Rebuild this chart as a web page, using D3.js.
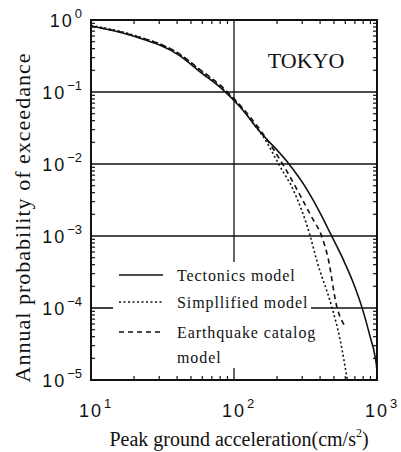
<!DOCTYPE html>
<html>
<head>
<meta charset="utf-8">
<script src="https://cdn.jsdelivr.net/npm/d3@7"></script>
<style>
body { margin: 0; background: #fff; }
svg { display: block; }
</style>
</head>
<body>
<svg width="401" height="452"></svg>
<script>
// values (acceleration cm/s^2, annual probability)
var tectonicsX = [10, 19.7, 41.9, 57, 83.8, 110, 152, 235, 324, 399, 476, 578, 679, 785, 893, 968, 997, 1000];
var tectonicsY = [0.826, 0.6, 0.317, 0.195, 0.107, 0.0624, 0.0281, 0.0108, 0.00441, 0.00212, 0.00105, 0.00048, 0.00023, 0.000102, 0.0000407, 0.0000214, 0.000014, 0.00001];
var simplifiedX = [10, 19.7, 41.9, 57, 83.8, 110, 140, 160, 210, 259, 340, 380, 484, 551, 620];
var simplifiedY = [0.84, 0.62, 0.33, 0.205, 0.11, 0.064, 0.034, 0.024, 0.0092, 0.00441, 0.00102, 0.00045, 0.000102, 0.000037, 0.00001];
var catalogX = [10, 19.7, 41.9, 57, 83.8, 110, 152, 220, 276, 351, 410, 454, 525, 597];
var catalogY = [0.82, 0.61, 0.335, 0.21, 0.115, 0.066, 0.03, 0.0098, 0.00441, 0.0018, 0.001, 0.0005, 0.000102, 0.000056];
var xTicks = [10, 100, 1000];
var yTicks = [1, 0.1, 0.01, 0.001, 0.0001, 0.00001];
var legendNames = ["Tectonics model", "Simpllified model", "Earthquake catalog", "model"];

var svg = d3.select("svg");
var pl = 91, pr = 377, pt = 20, pb = 380;

var x = d3.scaleLog().domain([10, 1000]).range([pl, pr]);
var y = d3.scaleLog().domain([0.00001, 1]).range([pb, pt]);

var ink = "#111";

// minor ticks
var xMinor = [], yMinor = [];
[10, 100].forEach(function(d) { for (var k = 2; k < 10; k++) xMinor.push(d * k); });
[0.00001, 0.0001, 0.001, 0.01, 0.1].forEach(function(d) { for (var k = 2; k < 10; k++) yMinor.push(d * k); });

var g = svg.append("g");

// grid lines
g.selectAll(".hgrid").data([0.1, 0.01, 0.001]).enter().append("line")
  .attr("x1", pl).attr("x2", pr)
  .attr("y1", function(d) { return y(d); }).attr("y2", function(d) { return y(d); })
  .attr("stroke", ink).attr("stroke-width", 1.6);
// 10^-4 line broken by legend
g.append("line").attr("x1", pl).attr("x2", 113).attr("y1", y(0.0001)).attr("y2", y(0.0001))
  .attr("stroke", ink).attr("stroke-width", 1.6);
g.append("line").attr("x1", 311).attr("x2", pr).attr("y1", y(0.0001)).attr("y2", y(0.0001))
  .attr("stroke", ink).attr("stroke-width", 1.6);
g.append("line").attr("x1", x(100)).attr("x2", x(100)).attr("y1", pt).attr("y2", 262)
  .attr("stroke", ink).attr("stroke-width", 1.3);

// minor ticks on four sides
g.selectAll(".xb").data(xMinor).enter().append("line")
  .attr("x1", function(d) { return x(d); }).attr("x2", function(d) { return x(d); })
  .attr("y1", pb).attr("y2", pb - 4).attr("stroke", ink).attr("stroke-width", 1.2);
g.selectAll(".xt").data(xMinor).enter().append("line")
  .attr("x1", function(d) { return x(d); }).attr("x2", function(d) { return x(d); })
  .attr("y1", pt).attr("y2", pt + 4).attr("stroke", ink).attr("stroke-width", 1.2);
g.selectAll(".yl").data(yMinor).enter().append("line")
  .attr("y1", function(d) { return y(d); }).attr("y2", function(d) { return y(d); })
  .attr("x1", pl).attr("x2", pl + 4).attr("stroke", ink).attr("stroke-width", 1.2);
g.selectAll(".yr").data(yMinor).enter().append("line")
  .attr("y1", function(d) { return y(d); }).attr("y2", function(d) { return y(d); })
  .attr("x1", pr).attr("x2", pr - 4).attr("stroke", ink).attr("stroke-width", 1.2);
g.append("line").attr("x1", x(100)).attr("x2", x(100)).attr("y1", pb).attr("y2", pb - 12)
  .attr("stroke", ink).attr("stroke-width", 1.3);

// frame
g.append("rect").attr("x", pl).attr("y", pt).attr("width", pr - pl).attr("height", pb - pt)
  .attr("fill", "none").attr("stroke", ink).attr("stroke-width", 2);

// curves
var line = d3.line().x(function(d) { return x(d[0]); }).y(function(d) { return y(d[1]); }).curve(d3.curveMonotoneX);
function pairs(xs, ys) { return xs.map(function(v, i) { return [v, ys[i]]; }); }

svg.append("path").datum(pairs(tectonicsX, tectonicsY)).attr("d", line)
  .attr("fill", "none").attr("stroke", ink).attr("stroke-width", 1.6);
svg.append("path").datum(pairs(simplifiedX, simplifiedY)).attr("d", line)
  .attr("fill", "none").attr("stroke", ink).attr("stroke-width", 1.6).attr("stroke-dasharray", "2,2.5");
svg.append("path").datum(pairs(catalogX, catalogY)).attr("d", line)
  .attr("fill", "none").attr("stroke", ink).attr("stroke-width", 1.6).attr("stroke-dasharray", "5,4");

// y tick labels
var tickFont = "'Liberation Sans', Arial, sans-serif";
var yl = svg.selectAll(".ylab").data(yTicks).enter().append("text")
  .attr("x", 82).attr("y", function(d) { return y(d) + 7; })
  .attr("text-anchor", "end").attr("font-family", tickFont).attr("font-size", 18).attr("fill", ink);
yl.append("tspan").text("10").attr("letter-spacing", 2);
yl.append("tspan").attr("dy", -9).attr("font-size", 13).attr("dx", 1)
  .text(function(d) { var e = Math.round(Math.log10(d)); return e === 0 ? "0" : "\u2212" + (-e); });

// x tick labels
var xl = svg.selectAll(".xlab").data(xTicks).enter().append("text")
  .attr("x", function(d) { return x(d) - 12; }).attr("y", 417)
  .attr("font-family", tickFont).attr("font-size", 18).attr("fill", ink);
xl.append("tspan").text("10").attr("letter-spacing", 2);
xl.append("tspan").attr("dy", -9).attr("font-size", 13).attr("dx", 1)
  .text(function(d) { return Math.round(Math.log10(d)); });

// titles
var serif = "'Liberation Serif', 'Times New Roman', serif";
svg.append("text").attr("transform", "translate(30,218) rotate(-90)")
  .attr("text-anchor", "middle").attr("font-family", serif).attr("font-size", 22).attr("fill", ink)
  .attr("textLength", 329).attr("lengthAdjust", "spacing")
  .text("Annual probability of exceedance");
var xt = svg.append("text").attr("x", 239).attr("y", 446).attr("text-anchor", "middle")
  .attr("font-family", serif).attr("font-size", 20).attr("fill", ink);
xt.append("tspan").text("Peak ground acceleration(cm/s");
xt.append("tspan").attr("dy", -9).attr("font-size", 12).text("2");
xt.append("tspan").attr("dy", 9).text(")");

svg.append("text").attr("x", 306).attr("y", 68).attr("text-anchor", "middle")
  .attr("font-family", serif).attr("font-size", 22).attr("fill", ink).text("TOKYO");

// legend
var legY = [275, 302, 332];
var dashes = [null, "2,2.5", "5,4"];
legY.forEach(function(ly, i) {
  svg.append("line").attr("x1", 119).attr("x2", 163).attr("y1", ly).attr("y2", ly)
    .attr("stroke", ink).attr("stroke-width", 1.6).attr("stroke-dasharray", dashes[i]);
});
svg.selectAll(".leg").data(legendNames).enter().append("text")
  .attr("x", 177).attr("y", function(d, i) { return [281, 308, 338, 363][i]; })
  .attr("font-family", serif).attr("font-size", 16).attr("letter-spacing", 0.9).attr("fill", ink)
  .text(function(d) { return d; });
</script>
</body>
</html>
